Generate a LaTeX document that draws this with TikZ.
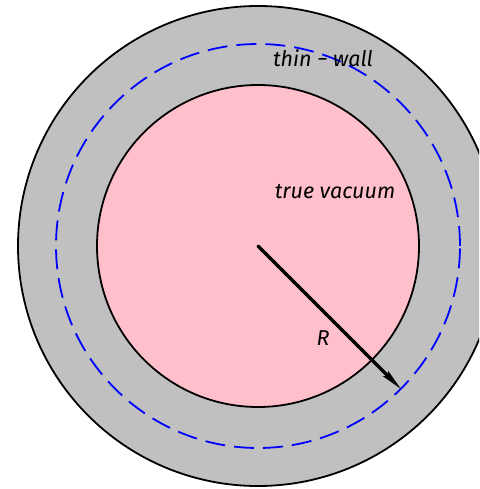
\documentclass[tikz,border=0pt]{standalone}
\usepackage{fontspec}
\setmainfont{Fira Sans}
\usepackage{tikz}
\usetikzlibrary{arrows.meta}
\definecolor{wallgray}{RGB}{192,192,192}
\definecolor{vacpink}{RGB}{255,192,203}

\begin{document}
\begin{tikzpicture}[
      x=1pt, y=-1pt,
      ring/.style={draw=black, line width=1.8pt},
      lbl/.style={font=\fontsize{21.5}{24}\selectfont\itshape, inner sep=0pt},
      radius line/.style={line width=3.4pt, line cap=round,
                          -{Stealth[length=22pt, width=7pt, inset=3pt]}},
    ]
    \useasboundingbox (0,0) rectangle (479,489);
    \clip (0,0) rectangle (479,489);

    % ---- bubble ----
    \coordinate (c) at (258,246);
    \draw[ring, fill=wallgray] (c) circle[radius=240pt];
    \draw[ring, fill=vacpink] (c) circle[radius=161pt];

    % wall midline
    \draw[blue, line width=1.8pt, dash pattern=on 20pt off 9pt] (c) circle[radius=202pt];

    % ---- radius ----
    \coordinate (tip) at ([shift={(45:203)}]c);
    \draw[radius line] (c) -- (tip);

    % labels
    \node[lbl] (r) at (323,338) {R};
    \node[lbl] (tv) at (335,192) {true vacuum};
    \node[lbl] (tw) at (323,58) {thin\hspace{0.25em}−\hspace{0.25em}wall};
  \end{tikzpicture}
\end{document}
